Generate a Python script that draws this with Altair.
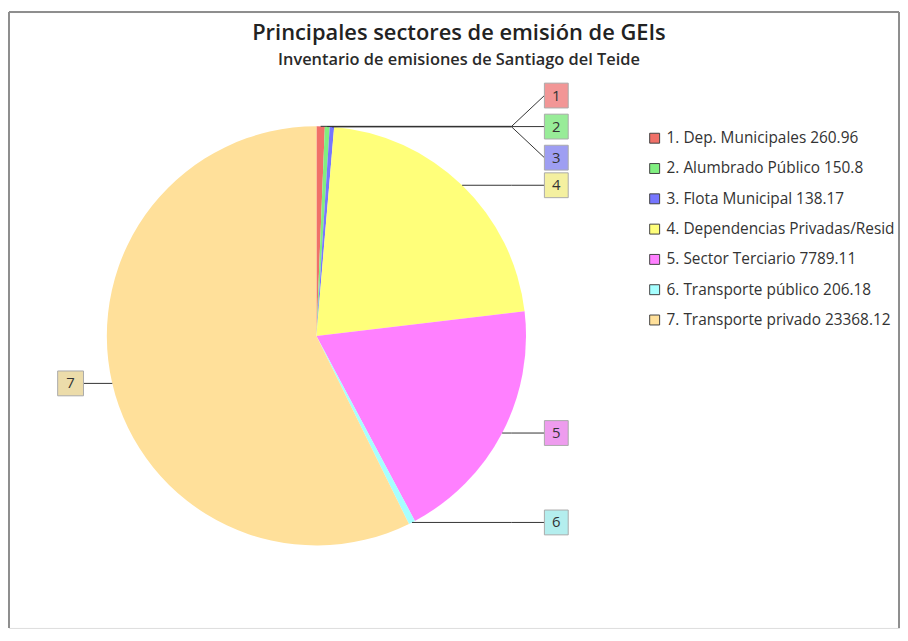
import altair as alt
import pandas as pd

# ---- data ----
NUMS = [1, 2, 3, 4, 5, 6, 7]
NAMES = [
    "Dep. Municipales",
    "Alumbrado Público",
    "Flota Municipal",
    "Dependencias Privadas/Residenciales",
    "Sector Terciario",
    "Transporte público",
    "Transporte privado",
]
VALUES = [260.96, 150.8, 138.17, 8884.3, 7789.11, 206.18, 23368.12]

TITLE = "Principales sectores de emisión de GEIs"
SUBTITLE = "Inventario de emisiones de Santiago del Teide"

# ---- styles ----
PALETTE = ["#f07068", "#80ef80", "#7676ff", "#ffff7a", "#ff80ff", "#a6ffff", "#ffe09a"]
BOX_FILLS = ["#f29696", "#98ec98", "#9e9ef2", "#f4f0a0", "#ee9cee", "#b4eeee", "#ecdcaa"]
FONT = "Open Sans"

# ---- layout (view pixels) ----
W, H = 896, 620
CX, CY, R = 309.5, 326, 211
ELBOW_R = 506
RBOX_L, BOX_W, BOX_H = 539, 24, 25
LBOX_L, LBOX_R = 49, 75
LEG_SQ_X, LEG_TX_X, LEG_Y0, LEG_STEP = 650, 662, 127, 30.5

df = pd.DataFrame({
    "idx": NUMS,
    "name": NAMES,
    "value": VALUES,
    "num": [str(n) for n in NUMS],
    "legend": [f"{n}. {nm} {v}" for n, nm, v in zip(NUMS, NAMES, VALUES)],
})

calc = (
    alt.Chart(df)
    .transform_window(cum="sum(value)", sort=[alt.SortField("idx", order="ascending")], frame=[None, 0])
    .transform_joinaggregate(total="sum(value)")
    .transform_calculate(mid="2*PI*(datum.cum - datum.value/2)/datum.total")
    .transform_calculate(
        ax=f"{CX} + {R}*sin(datum.mid)",
        ay=f"{CY} - {R}*cos(datum.mid)",
        rside="sin(datum.mid) >= 0",
    )
    .transform_calculate(
        by="datum.ay + (datum.idx <= 3 ? (datum.idx - 2)*31 : 0)",
        elbow=f"datum.rside ? {ELBOW_R} : {LBOX_R}",
        edge=f"datum.rside ? {RBOX_L} : {LBOX_R}",
        bx1=f"datum.rside ? {RBOX_L} : {LBOX_L}",
        bx2=f"datum.rside ? {RBOX_L + BOX_W} : {LBOX_R}",
        ly=f"{LEG_Y0} + (datum.idx - 1)*{LEG_STEP}",
    )
    .transform_calculate(
        by1=f"datum.by - {BOX_H/2}",
        by2=f"datum.by + {BOX_H/2}",
        bcx="(datum.bx1 + datum.bx2)/2",
    )
)

color = alt.Color("name:N", scale=alt.Scale(domain=NAMES, range=PALETTE), legend=None)

pie = alt.Chart(df).mark_arc(radius=R).encode(
    theta=alt.Theta("value:Q", stack=True),
    order=alt.Order("idx:Q", sort="ascending"),
    color=color,
    x=alt.value(CX),
    y=alt.value(CY),
)

seg1 = calc.mark_rule(color="#333", strokeWidth=1).encode(
    x=alt.X("ax:Q", scale=None, axis=None),
    x2="elbow:Q",
    y=alt.Y("ay:Q", scale=None, axis=None),
    y2="ay:Q",
)
seg2 = calc.mark_rule(color="#333", strokeWidth=1).encode(
    x=alt.X("elbow:Q", scale=None, axis=None),
    x2="edge:Q",
    y=alt.Y("ay:Q", scale=None, axis=None),
    y2="by:Q",
)
boxes = calc.mark_rect(stroke="#aaaaaa", strokeWidth=1).encode(
    x=alt.X("bx1:Q", scale=None, axis=None),
    x2="bx2:Q",
    y=alt.Y("by1:Q", scale=None, axis=None),
    y2="by2:Q",
    fill=alt.Fill("name:N", scale=alt.Scale(domain=NAMES, range=BOX_FILLS), legend=None),
)
box_text = calc.mark_text(font=FONT, fontSize=15, color="#333", align="center", baseline="middle").encode(
    x=alt.X("bcx:Q", scale=None, axis=None),
    y=alt.Y("by:Q", scale=None, axis=None),
    text="num:N",
)

leg_sq = calc.mark_square(size=100, filled=True, stroke="#444", strokeWidth=1, opacity=1).encode(
    x=alt.value(LEG_SQ_X),
    y=alt.Y("ly:Q", scale=None, axis=None),
    color=color,
)
leg_tx = calc.mark_text(font=FONT, fontSize=15.5, color="#333", align="left", baseline="middle",
                        limit=W - LEG_TX_X - 1, ellipsis="\u200b").encode(
    x=alt.value(LEG_TX_X),
    y=alt.Y("ly:Q", scale=None, axis=None),
    text="legend:N",
)

frame_df = pd.DataFrame({"k": [0]})
frame = alt.Chart(frame_df)
f_left = frame.mark_rule(color="#8e8e8e", strokeWidth=2).encode(x=alt.value(0), y=alt.value(0), y2=alt.value(H))
f_top = frame.mark_rule(color="#8e8e8e", strokeWidth=2).encode(x=alt.value(0), x2=alt.value(W), y=alt.value(0))
f_right = frame.mark_rule(color="#8e8e8e", strokeWidth=2).encode(x=alt.value(W), y=alt.value(0), y2=alt.value(H))

chart = alt.layer(
    pie, seg1, seg2, boxes, box_text, leg_sq, leg_tx, f_left, f_top, f_right
).properties(
    width=W,
    height=H,
    padding={"left": 0, "top": 1, "right": 0, "bottom": 0},
    title=alt.TitleParams(
        text=TITLE,
        subtitle=SUBTITLE,
        font=FONT,
        fontSize=22,
        fontWeight=600,
        color="#222",
        subtitleFont=FONT,
        subtitleFontSize=16.5,
        subtitleFontWeight=600,
        subtitleColor="#2a2a2a",
        subtitlePadding=7,
        anchor="middle",
        dx=5,
        offset=-59,
    ),
).configure_view(stroke=None).configure(background="white")

chart.save("out.html", embed_options={"renderer": "svg", "actions": False})
